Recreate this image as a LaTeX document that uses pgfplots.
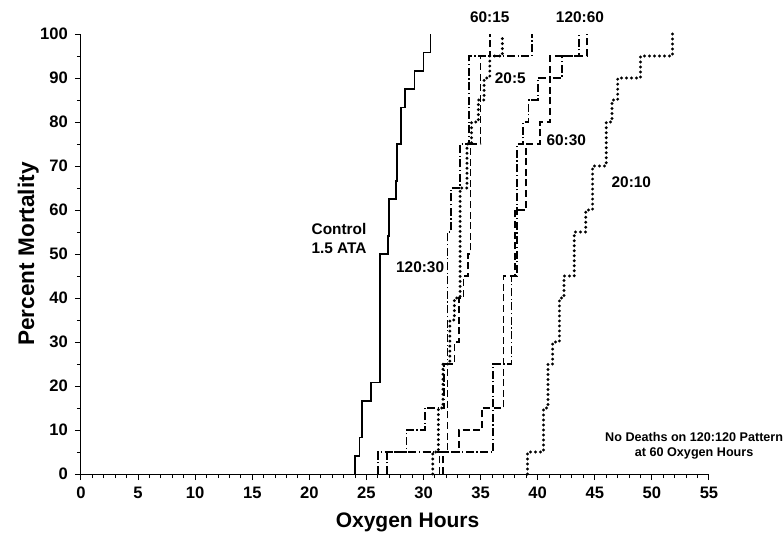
\documentclass[border=0pt]{standalone}
\usepackage{fontspec}
\setmainfont{Liberation Sans}
\usepackage{pgfplots}
\pgfplotsset{compat=1.18}
\tikzset{
 ctrl/.style={black, line width=0.85pt},
 dd/.style={black, line width=0.85pt, dash pattern=on 4pt off 1.3pt on 0.6pt off 1.3pt},
 da/.style={black, line width=0.85pt, dash pattern=on 3.5pt off 1.8pt},
 dt/.style={black, line width=1.6pt, line cap=round, dash pattern=on 0pt off 2.5pt},
 lab/.style={font=\bfseries\fontsize{7.7}{8.7}\selectfont, inner sep=0pt},
}
\begin{document}
\begin{tikzpicture}
\path[use as bounding box] (-40.5pt,-29pt) rectangle (351.5pt,237pt);
\begin{axis}[
 at={(0,0)}, anchor=south west,
 scale only axis, width=314pt, height=220pt,
 xmin=0, xmax=55, ymin=0, ymax=100,
 axis lines=left, axis line style={-, line width=0.5pt},
 xtick={0,5,...,55}, ytick={0,10,...,100},
 minor x tick num=4, minor y tick num=1,
 tick align=outside, major tick length=3pt, minor tick length=2pt,
 tick style={black, line width=0.5pt},
 /pgf/number format/assume math mode=true,
 ticklabel style={font=\bfseries\fontsize{8.3}{9}\selectfont},
 xlabel={Oxygen Hours}, ylabel={Percent Mortality},
 xlabel style={font=\bfseries\fontsize{10.5}{12}\selectfont, at={(axis description cs:0.52,-0.109)}, anchor=center},
 ylabel style={font=\bfseries\fontsize{11.3}{12}\selectfont, at={(axis description cs:-0.084,0.5)}, anchor=center},
 clip=false,
 const plot mark left,
]
% Control 1.5 ATA
\addplot[ctrl] coordinates {(24.0,0)(24.0,4.17)(24.4,8.33)(24.6,16.67)(25.4,20.83)(26.2,50)(26.9,54.17)(27.0,62.5)(27.6,66.67)(27.7,75)(28.0,83.33)(28.4,87.5)(29.2,91.67)(30.0,95.83)(30.6,100)};
% 120:30
\addplot[dd] coordinates {(26.0,0)(26.0,5)(28.5,10)(30.1,15)(31.8,25)(32.1,55)(32.4,65)(33.2,75)(34.0,95)(39.5,100)};
% 120:60
\addplot[dd] coordinates {(26.8,0)(26.8,5)(36.1,25)(37.7,45)(38.2,75)(38.7,80)(39.2,85)(40.0,90)(42.1,95)(43.6,100)};
% 60:15
\addplot[da] coordinates {(31.4,0)(31.4,5)(32.1,25)(32.7,30)(33.1,40)(33.5,45)(33.9,50)(34.1,75)(35.0,95)(35.8,100)};
% 60:30
\addplot[da] coordinates {(31.7,0)(31.7,5)(33.1,10)(35.1,15)(37.0,45)(38.0,60)(39.0,75)(40.2,80)(41.1,95)(44.3,100)};
% 20:5
\addplot[dt] coordinates {(30.8,0)(30.8,5)(31.3,15)(31.7,25)(32.3,35)(32.7,40)(33.2,65)(33.8,75)(34.2,80)(34.8,85)(35.3,90)(35.8,95)(36.9,100)};
% 20:10
\addplot[dt] coordinates {(39.1,0)(39.1,5)(40.5,15)(40.9,25)(41.3,30)(41.9,40)(42.3,45)(43.2,55)(44.2,60)(44.8,70)(46.0,80)(46.5,85)(47.0,90)(49.0,95)(51.8,100)};

\node[lab, align=center] at (axis cs:22.6,53.5) {Control\\[1pt]1.5 ATA};
\node[lab] at (axis cs:29.7,47) {120:30};
\node[lab] at (axis cs:35.8,103.8) {60:15};
\node[lab] at (axis cs:43.7,103.8) {120:60};
\node[lab] at (axis cs:37.6,90) {20:5};
\node[lab] at (axis cs:42.5,75.9) {60:30};
\node[lab] at (axis cs:48.2,66.4) {20:10};
\node[lab, align=center, font=\bfseries\fontsize{6.3}{7.5}\selectfont] at (axis cs:53.7,6.4) {No Deaths on 120:120 Pattern\\at 60 Oxygen Hours};
\end{axis}
\end{tikzpicture}
\end{document}
